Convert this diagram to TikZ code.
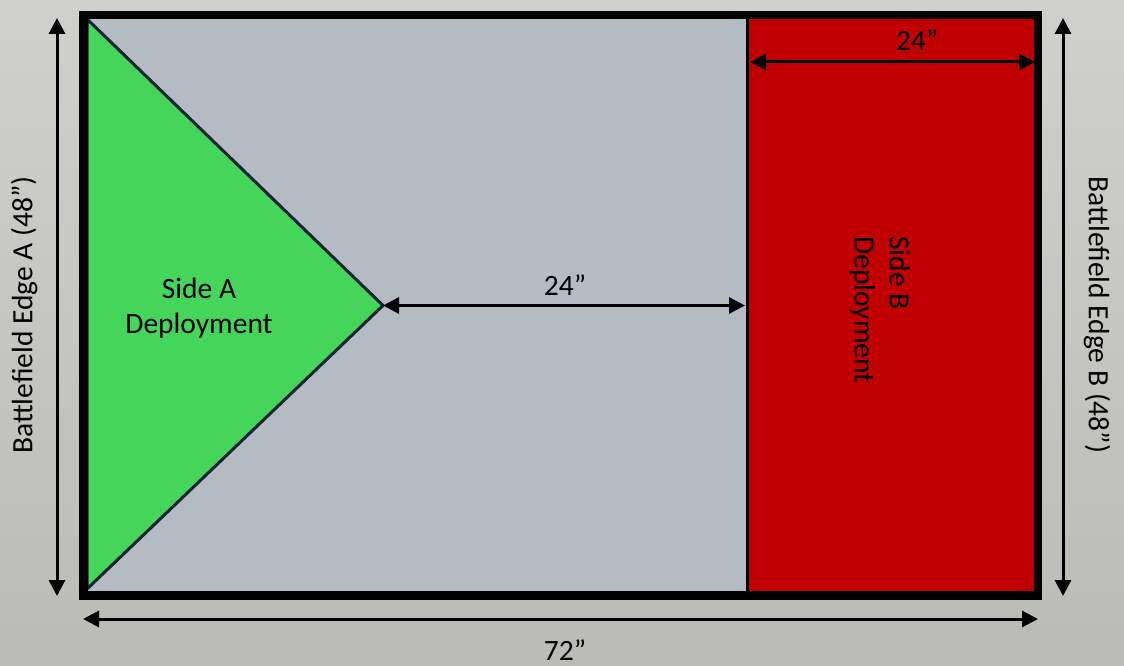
\documentclass[tikz,border=0pt]{standalone}
\usepackage{fontspec}
\setmainfont{Carlito}
\usetikzlibrary{arrows.meta}
\definecolor{bggrey}{HTML}{C4C4C1}
\definecolor{field}{HTML}{B4BBC2}
\definecolor{zoneA}{HTML}{45D55B}
\definecolor{zoneB}{HTML}{C00000}
\definecolor{navy}{HTML}{0E2238}
\tikzset{
  dim/.style={line width=3pt, {Triangle[length=16pt,width=16pt]}-{Triangle[length=16pt,width=16pt]}},
  lbl/.style={font=\fontsize{29.5}{35}\selectfont, inner sep=0pt}
}
\begin{document}
\begin{tikzpicture}[x=1pt,y=-1pt]
\useasboundingbox (0,0) rectangle (1124,666);
\fill[top color=bggrey!80!white, bottom color=bggrey!95!black] (0,0) rectangle (1124,666);
% field
\coordinate (TL) at (83.5,15);
\coordinate (BR) at (1038,595);
\fill[field] (TL) rectangle (BR);
% side B zone
\coordinate (bTL) at (747,15);
\coordinate (bBL) at (747,595);
\fill[zoneB] (bTL) rectangle (BR);
\draw[line width=3pt] (bTL) -- (bBL);
% side A triangle
\coordinate (a1) at (87,19);
\coordinate (a2) at (87,589);
\coordinate (apex) at (383,305.5);
\filldraw[fill=zoneA, draw=navy, line width=3pt, line join=miter] (a1) -- (apex) -- (a2) -- cycle;
% outer border
\draw[line width=8.5pt] (TL) rectangle (BR);
\draw[line width=4pt] (79.25,597.5) -- (1042.25,597.5);
% dimension arrows
\coordinate (mR) at (745,305.5);
\draw[dim] (apex) -- (mR);
\node[lbl] (l24m) at (565,285) {24”};
\coordinate (tL) at (750,62);
\coordinate (tR) at (1035,62);
\draw[dim] (tL) -- (tR);
\node[lbl] (l24t) at (917,40) {24”};
\coordinate (lT) at (57,18);
\coordinate (lB) at (57,596);
\draw[dim] (lT) -- (lB);
\coordinate (rT) at (1063,18);
\coordinate (rB) at (1063,596);
\draw[dim] (rT) -- (rB);
\coordinate (hL) at (83,619);
\coordinate (hR) at (1038,619);
\draw[dim] (hL) -- (hR);
\node[lbl] (l72) at (565,650) {72”};
% labels
\node[lbl, align=center] (sideA) at (199,308) {Side A\\Deployment};
\node[lbl, align=left, rotate=-90] (sideB) at (880,310) {Side B\\Deployment};
\node[lbl, rotate=90] (edgeA) at (24,315) {Battlefield Edge A (48”)};
\node[lbl, rotate=-90] (edgeB) at (1097,315) {Battlefield Edge B (48”)};
\end{tikzpicture}
\end{document}
